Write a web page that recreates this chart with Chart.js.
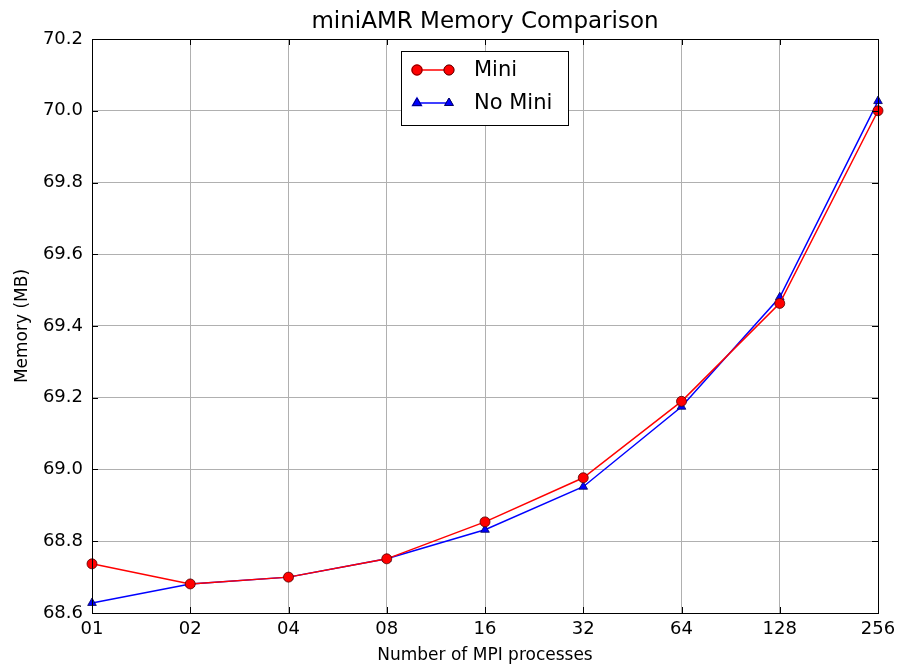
<!DOCTYPE html>
<html>
<head>
<meta charset="utf-8">
<script src="https://cdn.jsdelivr.net/npm/chart.js@4/dist/chart.umd.min.js"></script>
<style>
  html, body { margin: 0; padding: 0; background: #fff; }
  #wrap { width: 898px; height: 670px; }
</style>
</head>
<body>
<div id="wrap"><canvas id="chart" width="898" height="670"></canvas></div>
<script>
'use strict';
// process counts along the x axis
var processLabels = ['01', '02', '04', '08', '16', '32', '64', '128', '256'];
// memory in MB
var miniMemory = [68.737, 68.681, 68.70, 68.751, 68.854, 68.977, 69.19, 69.463, 70.00];
var noMiniMemory = [68.628, 68.681, 68.70, 68.751, 68.832, 68.952, 69.175, 69.48, 70.027];
var yTicks = [68.6, 68.8, 69.0, 69.2, 69.4, 69.6, 69.8, 70.0, 70.2];
var chartTitle = 'miniAMR Memory Comparison';

var font = 'DejaVu Sans, sans-serif';

// matplotlib-ish legend with a box around it
var boxLegend = {
  id: 'boxLegend',
  afterDraw: function(chart) {
    var ctx = chart.ctx;
    var x = 401, y = 51, w = 167, h = 74;
    ctx.save();
    ctx.fillStyle = '#fff';
    ctx.fillRect(x, y, w, h);
    ctx.strokeStyle = '#000';
    ctx.lineWidth = 1;
    ctx.strokeRect(x + 0.5, y + 0.5, w, h);
    chart.data.datasets.forEach(function(ds, i) {
      var ly = y + 19 + i * 33;
      ctx.strokeStyle = ds.borderColor;
      ctx.lineWidth = 1.5;
      ctx.beginPath();
      ctx.moveTo(417, ly);
      ctx.lineTo(449, ly);
      ctx.stroke();
      [417, 449].forEach(function(px) {
        Chart.helpers.drawPoint(ctx, {
          pointStyle: ds.pointStyle, radius: ds.pointRadius, rotation: 0, borderWidth: 1
        }, px, ly);
        ctx.fillStyle = ds.pointBackgroundColor;
        ctx.strokeStyle = ds.pointBorderColor;
        ctx.lineWidth = 0.8;
        ctx.fill();
        ctx.stroke();
      });
      ctx.fillStyle = '#000';
      ctx.font = '21px ' + font;
      ctx.textBaseline = 'middle';
      ctx.fillText(ds.label, 474, ly + 1);
    });
    ctx.restore();
  }
};

// box round the plot, small inward ticks on every side, title centred on the plot
var frame = {
  id: 'frame',
  afterDatasetsDraw: function(c) {
    var a = c.chartArea, g = c.ctx, t = 6;
    var xs = c.scales.x, ys = c.scales.y;
    g.save();
    g.strokeStyle = '#000';
    g.lineWidth = 1;
    g.strokeRect(a.left + 0.5, a.top + 0.5, a.right - a.left, a.bottom - a.top);
    g.beginPath();
    processLabels.forEach(function(l, i) {
      var px = Math.round(xs.getPixelForValue(i)) + 0.5;
      g.moveTo(px, a.bottom); g.lineTo(px, a.bottom - t);
      g.moveTo(px, a.top); g.lineTo(px, a.top + t);
    });
    yTicks.forEach(function(v) {
      var py = Math.round(ys.getPixelForValue(v)) + 0.5;
      g.moveTo(a.left, py); g.lineTo(a.left + t, py);
      g.moveTo(a.right, py); g.lineTo(a.right - t, py);
    });
    g.stroke();
    g.fillStyle = '#000';
    g.font = '23px ' + font;
    g.textAlign = 'center';
    g.textBaseline = 'middle';
    g.fillText(chartTitle, (a.left + a.right) / 2, 22);
    g.restore();
  }
};

var ctx = document.getElementById('chart').getContext('2d');
var chart = new Chart(ctx, {
  type: 'line',
  data: {
    labels: processLabels,
    datasets: [{
      label: 'Mini',
      data: miniMemory,
      borderColor: '#ff0000',
      borderWidth: 1.5,
      pointStyle: 'circle',
      pointRadius: 5,
      pointBackgroundColor: '#ff0000',
      pointBorderColor: '#550000',
      pointBorderWidth: 0.8,
      tension: 0,
      clip: false
    }, {
      label: 'No Mini',
      data: noMiniMemory,
      borderColor: '#0000ff',
      borderWidth: 1.5,
      pointStyle: 'triangle',
      pointRadius: 5,
      pointBackgroundColor: '#0000ff',
      pointBorderColor: '#000055',
      pointBorderWidth: 0.8,
      tension: 0,
      clip: false
    }]
  },
  options: {
    responsive: false,
    animation: false,
    layout: { padding: { top: 39, right: 20, bottom: 0, left: 0 } },
    plugins: {
      legend: { display: false },
      tooltip: { enabled: false },
      title: { display: false }
    },
    scales: {
      x: {
        offset: false,
        grid: { color: '#b0b0b0', lineWidth: 1, drawTicks: false },
        border: { color: '#000', width: 1 },
        ticks: { color: '#000', font: { family: font, size: 18 }, padding: 6, maxRotation: 0 },
        title: {
          display: true, text: 'Number of MPI processes', color: '#000',
          font: { family: font, size: 17 }, padding: { top: 6 }
        },
        afterFit: function(s) { s.height = 57; s.paddingLeft = 0; s.paddingRight = 0; }
      },
      y: {
        min: 68.6,
        max: 70.2,
        afterBuildTicks: function(s) { s.ticks = yTicks.map(function(v) { return { value: v }; }); },
        grid: { color: '#b0b0b0', lineWidth: 1, drawTicks: false },
        border: { color: '#000', width: 1 },
        ticks: {
          color: '#000', font: { family: font, size: 18 }, padding: 9,
          callback: function(v) { return Number(v).toFixed(1); }
        },
        title: {
          display: true, text: 'Memory (MB)', color: '#000',
          font: { family: font, size: 17 }, padding: { top: 12, bottom: 4 }
        },
        afterFit: function(s) { s.width = 92; s.paddingTop = 0; s.paddingBottom = 0; }
      }
    }
  },
  plugins: [boxLegend, frame]
});
</script>
</body>
</html>
